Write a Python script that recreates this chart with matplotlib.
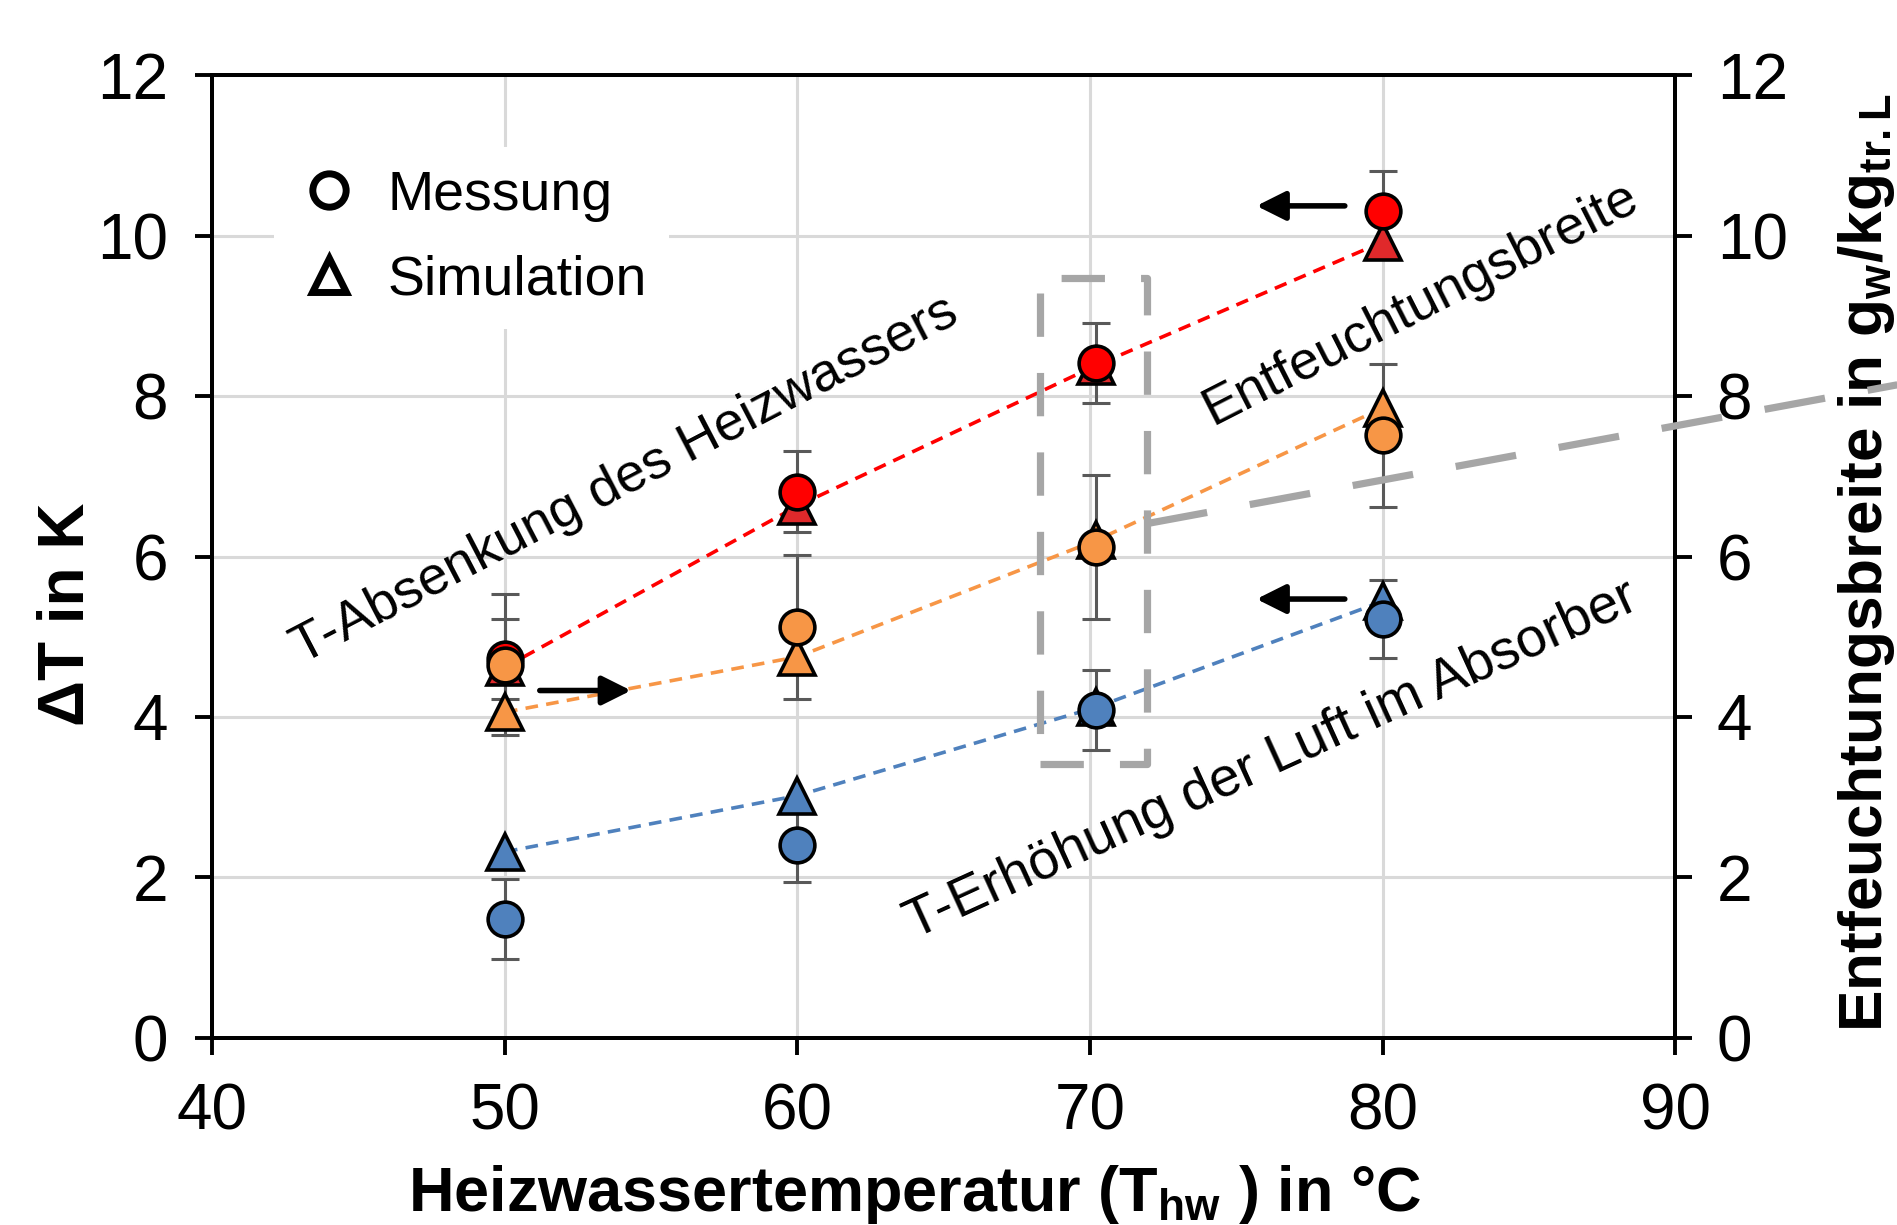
import matplotlib
matplotlib.use('Agg')
import matplotlib.pyplot as plt
from matplotlib.lines import Line2D
from matplotlib.patches import Rectangle

plt.rcParams['font.family'] = ['Liberation Sans', 'DejaVu Sans']
plt.rcParams['mathtext.default'] = 'regular'

# Heizwassertemperatur in °C
t_hw = [50, 60, 70.2, 80]

# T-Absenkung des Heizwassers (rot)
rot_mess = [4.72, 6.81, 8.41, 10.30]
rot_sim = [4.62, 6.63, 8.38, 9.92]
rot_err = [0.5, 0.5, 0.5, 0.5]

# Entfeuchtungsbreite (orange)
orange_mess = [4.65, 5.12, 6.12, 7.51]
orange_sim = [4.06, 4.75, 6.20, 7.85]
orange_err = [0.88, 0.9, 0.9, 0.89]

# T-Erhöhung der Luft im Absorber (blau)
blau_mess = [1.48, 2.40, 4.09, 5.22]
blau_sim = [2.32, 3.02, 4.12, 5.44]
blau_err = [0.5, 0.46, 0.5, 0.49]

x_ticks = [40, 50, 60, 70, 80, 90]
y_ticks = [0, 2, 4, 6, 8, 10, 12]

fig = plt.figure(figsize=(9.485, 6.125), dpi=200)
ax = fig.add_axes([0.112, 0.1527, 0.771, 0.786])

serien = [
    (rot_mess, rot_sim, rot_err, '#FF0000', '#E0292B'),
    (orange_mess, orange_sim, orange_err, '#F79646', '#F79646'),
    (blau_mess, blau_sim, blau_err, '#4F81BD', '#4F81BD'),
]

# gestrichelte Linien durch die Simulation
for mess, sim, err, farbe, farbe_sim in serien:
    ax.plot(t_hw, sim, ls=(0, (3.5, 2.3)), color=farbe, lw=1.3, zorder=3)

# Fehlerbalken der Messung
for mess, sim, err, farbe, farbe_sim in serien:
    ax.errorbar(t_hw, mess, yerr=err, fmt='none', ecolor='#595959',
                elinewidth=1.1, capsize=5, capthick=1.1, zorder=4)

# Simulation (Dreiecke)
for mess, sim, err, farbe, farbe_sim in serien:
    ax.plot(t_hw, sim, ls='none', marker='^', ms=13, mfc=farbe_sim,
            mec='black', mew=1.3, zorder=5)

# Messung (Kreise)
for mess, sim, err, farbe, farbe_sim in serien:
    ax.plot(t_hw, mess, ls='none', marker='o', ms=12.5, mfc=farbe,
            mec='black', mew=1.3, zorder=6)

ax.set_xlim(40, 90)
ax.set_ylim(0, 12)
ax.set_xticks(x_ticks)
ax.set_yticks(y_ticks)
ax.grid(color='#D9D9D9', lw=1.1, zorder=0)
ax.set_axisbelow(True)
for s in ax.spines.values():
    s.set_linewidth(1.4)
ax.tick_params(direction='out', length=6, width=1.4, labelsize=23, pad=10)

ax.set_xlabel(r'Heizwassertemperatur (T$_{hw}$ ) in °C', fontsize=22.7,
              fontweight='bold')
ax.xaxis.set_label_coords(0.48, -0.13)
ax.set_ylabel('ΔT in K', fontsize=23, fontweight='bold')
ax.yaxis.set_label_coords(-0.079, 0.44)

ax2 = ax.twinx()
ax2.set_ylim(0, 12)
ax2.set_yticks(y_ticks)
ax2.tick_params(direction='out', length=6, width=1.4, labelsize=23, pad=9)
for s in ax2.spines.values():
    s.set_linewidth(1.4)
ax2.set_ylabel(r'Entfeuchtungsbreite in g$_{w}$/kg$_{tr.L}$', fontsize=22.4,
               fontweight='bold')
ax2.yaxis.set_label_coords(1.11, 0.494)

# Legende
handles = [
    Line2D([], [], ls='none', marker='o', ms=12, mfc='white', mec='black', mew=2.5),
    Line2D([], [], ls='none', marker='^', ms=12, mfc='white', mec='black', mew=2.5),
]
leg = ax.legend(handles, ['Messung', 'Simulation'], loc='upper left',
                bbox_to_anchor=(0.042, 0.925), borderaxespad=0, fontsize=20,
                frameon=True, fancybox=False, framealpha=1, edgecolor='none',
                handletextpad=0.45, labelspacing=0.6, handlelength=1.2,
                borderpad=0.4)
leg.set_zorder(7)

# Beschriftungen im Diagramm
ax.text(54.1, 6.95, 'T-Absenkung des Heizwassers', rotation=27.5, fontsize=19.5,
        ha='center', va='center', rotation_mode='anchor')
ax.text(81.3, 9.15, 'Entfeuchtungsbreite', rotation=27, fontsize=19.5,
        ha='center', va='center', rotation_mode='anchor')
ax.text(76.2, 3.45, 'T-Erhöhung der Luft im Absorber', rotation=24.5, fontsize=19.8,
        ha='center', va='center', rotation_mode='anchor')

# Pfeile zur Achsenzuordnung
pfeil = dict(arrowstyle='-|>', color='black', lw=2, mutation_scale=22)
ax.annotate('', xy=(75.5, 10.37), xytext=(78.9, 10.37), arrowprops=pfeil)
ax.annotate('', xy=(75.5, 5.47), xytext=(78.9, 5.47), arrowprops=pfeil)
ax.annotate('', xy=(54.5, 4.33), xytext=(51.0, 4.33), arrowprops=pfeil)

# grauer Rahmen bei 70 °C und Hinweislinie zur rechten Achse
ax.add_patch(Rectangle((68.3, 3.41), 3.64, 6.06, fill=False, ec='#A6A6A6',
                       lw=2.6, ls=(0, (6, 5)), joinstyle='round', zorder=8))
ax2.plot([71.94, 97.6], [6.41, 8.14], color='#A6A6A6', lw=2.6,
         ls=(0, (8.5, 6)), clip_on=False, zorder=10)

fig.savefig('out.png', dpi=200)
